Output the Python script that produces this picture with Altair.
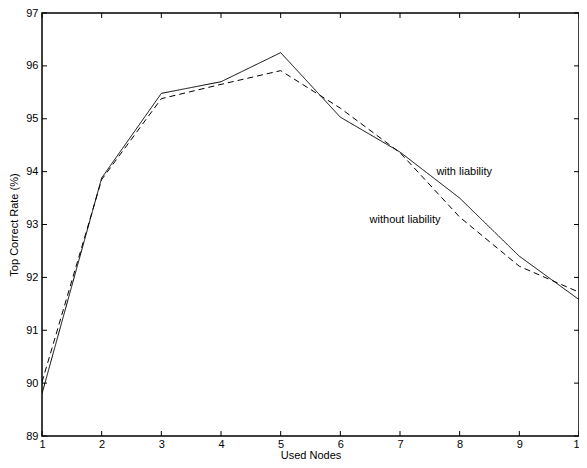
import altair as alt
import pandas as pd

nodes = [1, 2, 3, 4, 5, 6, 7, 8, 9, 10]
with_liability = [89.80, 93.88, 95.48, 95.70, 96.25, 95.03, 94.37, 93.50, 92.40, 91.58]
without_liability = [90.02, 93.85, 95.38, 95.65, 95.91, 95.20, 94.36, 93.14, 92.21, 91.72]

label_text = ["with liability", "without liability"]
label_x = [7.61, 6.49]
label_y = [94.0, 93.08]

x_ticks = [1, 2, 3, 4, 5, 6, 7, 8, 9, 10]
y_ticks = [89, 90, 91, 92, 93, 94, 95, 96, 97]

W, H = 537, 423
FONT = "Liberation Sans"

df = pd.DataFrame({
    "nodes": nodes * 2,
    "rate": with_liability + without_liability,
    "series": ["with"] * len(nodes) + ["without"] * len(nodes),
})
lab = pd.DataFrame({"text": label_text, "x": label_x, "y": label_y})
xt = pd.DataFrame({"v": x_ticks})
yt = pd.DataFrame({"v": y_ticks})

xs = alt.Scale(domain=[1, 10], nice=False, zero=False)
ys = alt.Scale(domain=[89, 97], nice=False, zero=False)

xaxis = alt.Axis(values=x_ticks, format="d", title="Used Nodes", grid=False, tickSize=0,
                 labelPadding=2, titlePadding=0, domain=False, labelFlush=False)
yaxis = alt.Axis(values=y_ticks, format="d", title="Top Correct Rate (%)", grid=False, tickSize=0,
                 labelPadding=4, titlePadding=6, domain=False, labelFlush=False)

lines = alt.Chart(df).mark_line(color="black", strokeWidth=1, clip=True).encode(
    x=alt.X("nodes:Q", scale=xs, axis=xaxis),
    y=alt.Y("rate:Q", scale=ys, axis=yaxis),
    strokeDash=alt.StrokeDash("series:N", scale=alt.Scale(domain=["with", "without"],
                              range=[[1, 0], [6, 4]]), legend=None),
    detail="series:N",
)

texts = alt.Chart(lab).mark_text(align="left", baseline="middle", fontSize=11,
                                 font=FONT, color="black").encode(
    x=alt.X("x:Q", scale=xs), y=alt.Y("y:Q", scale=ys), text="text:N")

xt_bot = alt.Chart(xt).mark_rule(color="black", strokeWidth=1).encode(
    x=alt.X("v:Q", scale=xs), y=alt.value(H), y2=alt.value(H - 5))
xt_top = alt.Chart(xt).mark_rule(color="black", strokeWidth=1).encode(
    x=alt.X("v:Q", scale=xs), y=alt.value(0), y2=alt.value(5))
yt_left = alt.Chart(yt).mark_rule(color="black", strokeWidth=1).encode(
    y=alt.Y("v:Q", scale=ys), x=alt.value(0), x2=alt.value(5))
yt_right = alt.Chart(yt).mark_rule(color="black", strokeWidth=1).encode(
    y=alt.Y("v:Q", scale=ys), x=alt.value(W), x2=alt.value(W - 5))

chart = alt.layer(lines, texts, xt_bot, xt_top, yt_left, yt_right).properties(
    width=W, height=H,
    autosize=alt.AutoSizeParams(type="none"),
    padding={"left": 34, "top": 5, "right": 0, "bottom": 24},
    background="white",
).configure_view(stroke="black", strokeWidth=1.5).configure_axis(
    labelFont=FONT, titleFont=FONT, labelFontSize=11, titleFontSize=11,
    labelColor="black", titleColor="black", titleFontWeight="normal",
)

chart.save("out.html", embed_options={"renderer": "svg", "actions": False})
